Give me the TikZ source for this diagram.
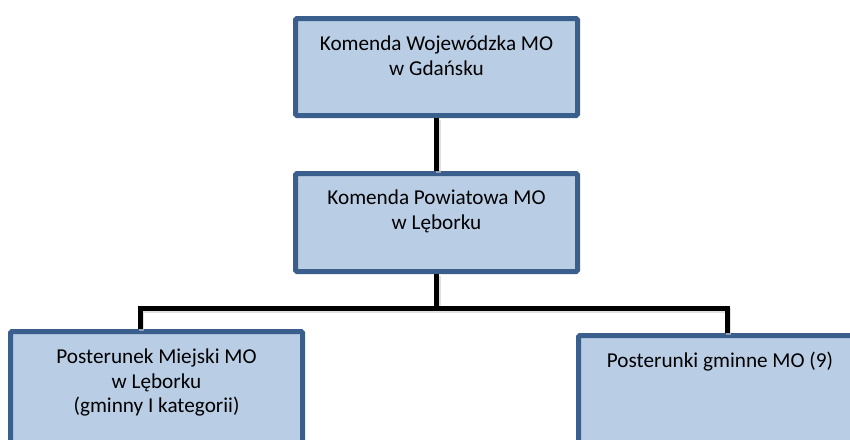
\documentclass[tikz,border=0pt]{standalone}
\usepackage{fontspec}
\setmainfont{Carlito}
\definecolor{boxfill}{HTML}{B9CDE5}
\definecolor{boxline}{HTML}{3A5F8D}
\begin{document}
\begin{tikzpicture}[x=1pt,y=-1pt,
  orgbox/.style={draw=boxline,fill=boxfill,line width=5pt,rounded corners=1.5pt,
    rectangle,inner sep=0pt},
  txt/.style={inner sep=0pt,align=center,anchor=north,
    font=\fontsize{21.2pt}{24.8pt}\selectfont,text=black},
  conn/.style={line width=5pt,line join=miter,draw=black},
  shadowline/.style={line width=5pt,line join=miter,draw=black!20,opacity=0.6}]
\useasboundingbox (0,0) rectangle (850,439);
\clip (0,0) rectangle (850,439);
% boxes
\node[orgbox,minimum width=282pt,minimum height=97pt] (kw) at (436.5,67) {};
\node[orgbox,minimum width=282pt,minimum height=98pt] (kp) at (436.5,222.5) {};
\node[orgbox,minimum width=292pt,minimum height=114pt] (pm) at (156.5,388.5) {};
\node[orgbox,minimum width=283pt,minimum height=110pt] (pg) at (720,390.5) {};
% texts
\node[txt] (kwt) at ([yshift=-19pt]kw.north) {\rule{0pt}{15pt}Komenda Wojewódzka MO\\w Gdańsku};
\node[txt] (kpt) at ([yshift=-18pt]kp.north) {\rule{0pt}{15pt}Komenda Powiatowa MO\\w Lęborku};
\node[txt] (pmt) at ([yshift=-19pt]pm.north) {\rule{0pt}{15pt}Posterunek Miejski MO\\w Lęborku\\(gminny I kategorii)};
\node[txt] (pgt) at ([yshift=-19pt]pg.north) {\rule{0pt}{15pt}Posterunki gminne MO (9)};
% bus coordinates
\coordinate (bl) at (140,308);
\coordinate (br) at (727,308);
% shadows
\draw[shadowline,transform canvas={shift={(1.5pt,-2pt)}}] (kw.south) -- (kp.north);
\draw[shadowline,transform canvas={shift={(1.5pt,-2pt)}}] (kp.south) -- (kp.south |- bl);
\draw[shadowline,transform canvas={shift={(1.5pt,-2pt)}}] (pm.north -| bl) -- (bl) -- (br) -- (pg.north -| br);
% connectors
\draw[conn] (kw.south) -- (kp.north);
\draw[conn] (kp.south) -- (kp.south |- bl);
\draw[conn] (pm.north -| bl) -- (bl) -- (br) -- (pg.north -| br);
\end{tikzpicture}
\end{document}
